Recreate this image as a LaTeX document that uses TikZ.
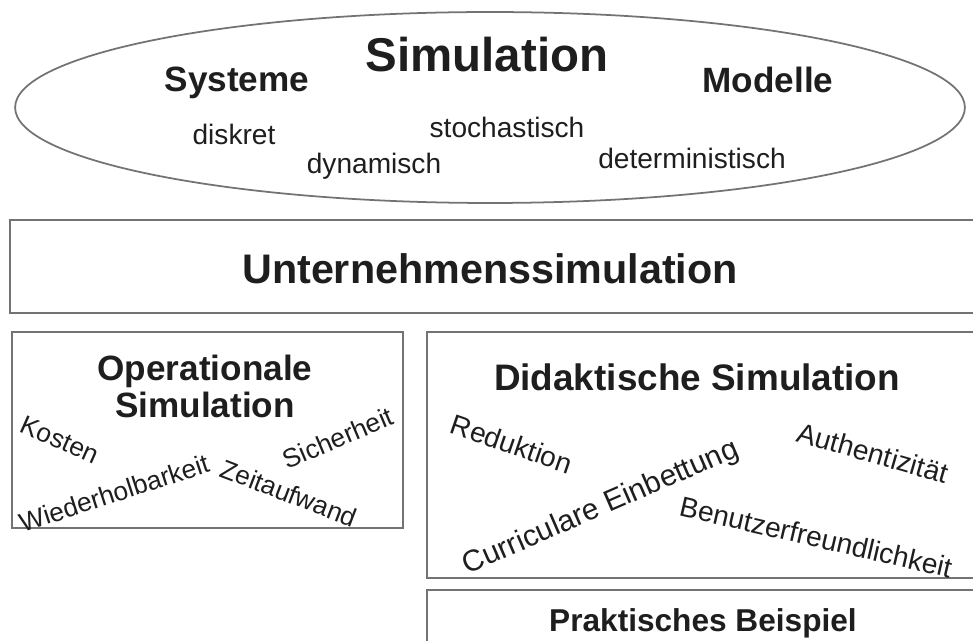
\documentclass[tikz,border=0pt]{standalone}
\usepackage{fontspec}
\setmainfont{Liberation Sans}
\usetikzlibrary{shapes.geometric}
\definecolor{inkgray}{RGB}{30,30,30}
\definecolor{framegray}{RGB}{115,115,115}
\begin{document}
\begin{tikzpicture}[x=0.02cm, y=-0.02cm,
    frame/.style={draw=framegray, line width=1.3pt, inner sep=0pt},
    head/.style={text=inkgray, font=\bfseries\fontsize{20}{21}\selectfont, align=center, anchor=base},
    word/.style={text=inkgray, font=\fontsize{16}{19}\selectfont, anchor=base},
    aspect/.style={text=inkgray, font=\fontsize{15}{18}\selectfont, inner sep=0.5pt}]
      \path[use as bounding box, clip] (0,0) rectangle (973,641);
      %\draw [help lines] (0,0) grid (973,641);

      % simulation cloud
      \node (simcloud) [frame, ellipse, line width=1pt, minimum width=19cm, minimum height=3.82cm] at (490,107.5) {};
      \node (simulation) [head, font=\bfseries\fontsize{27}{30}\selectfont] at (487,72) {Simulation};
      \node (systeme) [head] at (237,92) {Systeme};
      \node (modelle) [head] at (768,93) {Modelle};
      \node (diskret) [word] at (234,145) {diskret};
      \node (stochastisch) [word] at (507,138) {stochastisch};
      \node (dynamisch) [word] at (374,174) {dynamisch};
      \node (deterministisch) [word] at (692,169) {deterministisch};

      % company level
      \node (untbox) [frame, minimum width=19.5cm, minimum height=1.86cm] at (497.5,266.5) {};
      \node (unternehmen) [head, font=\bfseries\fontsize{23.5}{27}\selectfont] at (490,284) {Unternehmenssimulation};

      % operational branch
      \node (opbox) [frame, minimum width=7.82cm, minimum height=3.92cm] at (207.5,430) {};
      \node (operational) [head, anchor=center] at (205,386) {Operationale\\Simulation};
      \node (kosten) [aspect, rotate=-24] at (60,440) {Kosten};
      \node (sicherheit) [aspect, rotate=23] at (338,438) {Sicherheit};
      \node (wiederholbarkeit) [aspect, rotate=18] at (114,493) {Wiederholbarkeit};
      \node (zeitaufwand) [aspect, rotate=-21] at (289,493) {Zeitaufwand};

      % didactic branch
      \node (didbox) [frame, minimum width=11.16cm, minimum height=4.92cm] at (706,455) {};
      \node (didaktisch) [head, font=\bfseries\fontsize{21}{24}\selectfont] at (697,391) {Didaktische Simulation};
      \node (reduktion) [word, anchor=center, inner sep=0.5pt, rotate=-19] at (512,444) {Reduktion};
      \node (authentizitaet) [word, anchor=center, inner sep=0.5pt, rotate=-16] at (873,453) {Authentizität};
      \node (einbettung) [word, anchor=center, inner sep=0.5pt, font=\fontsize{17}{20}\selectfont, rotate=23.5] at (601,508) {Curriculare Einbettung};
      \node (benutzer) [word, anchor=center, inner sep=0.5pt, rotate=-13] at (816,537) {Benutzerfreundlichkeit};

      % example
      \node (prakbox) [frame, minimum width=11.16cm, minimum height=1.4cm] at (706,625) {};
      \node (praktisch) [head, font=\bfseries\fontsize{18}{21}\selectfont] at (703,631) {Praktisches Beispiel};
    \end{tikzpicture}
\end{document}
